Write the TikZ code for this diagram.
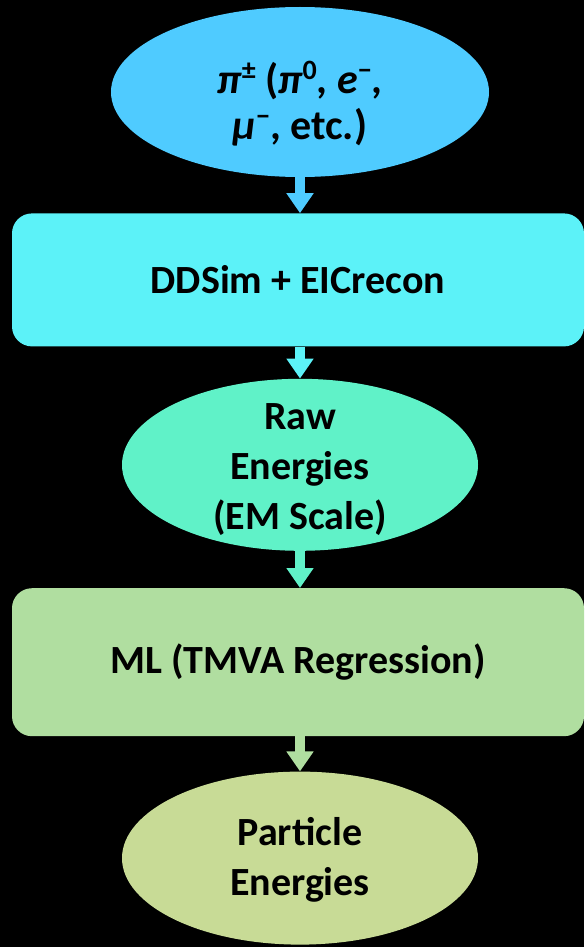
\documentclass[tikz,border=0pt]{standalone}
\usepackage{fontspec}
\setmainfont{Carlito}
\usetikzlibrary{arrows.meta, shapes.geometric, positioning}
\definecolor{particleblue}{RGB}{79,203,255}
\definecolor{simcyan}{RGB}{92,242,248}
\definecolor{rawmint}{RGB}{96,242,200}
\definecolor{mlgreen}{RGB}{176,222,160}
\definecolor{outolive}{RGB}{200,219,150}
\newcommand{\upidx}[1]{\raisebox{0.33em}{\fontsize{28}{28}\selectfont #1}}

\begin{document}
\begin{tikzpicture}[x=1pt, y=1pt, font=\fontsize{40}{50}\selectfont\bfseries,
  oval/.style={ellipse, inner sep=0pt, minimum width=356pt, minimum height=172pt},
  stage/.style={rectangle, rounded corners=20pt, inner sep=0pt, minimum width=572pt},
  lbl/.style={align=center, text=black},
  flow/.style={line width=10pt, -{Triangle[width=26pt, length=20pt]}}]
  \fill[black] (0,0) rectangle (584,-947);

  % inputs and chain
  \node[oval, fill=particleblue, minimum width=378pt, minimum height=170pt,
        label={[lbl, font=\fontsize{42}{46}\selectfont\bfseries, yshift=-12pt]center:{{\itshape π}\upidx{±} ({\itshape π}\upidx{0}, {\itshape e}\upidx{−},\\{\itshape μ}\upidx{−}, etc.)}}] (particles) at (300,-92) {};
  \node[stage, fill=simcyan, minimum height=133pt, below=36pt of particles, xshift=-2pt] (sim) {DDSim + EICrecon};
  \node[oval, fill=rawmint, below=32pt of sim, xshift=2pt,
        label={[lbl, yshift=-5pt]center:{Raw\\Energies\\(EM Scale)}}] (raw) {};
  \node[stage, fill=mlgreen, minimum height=148pt, below=37pt of raw, xshift=-2pt] (ml) {ML (TMVA Regression)};
  \node[oval, fill=outolive, minimum height=173pt, below=35pt of ml, xshift=2pt,
        label={[lbl, yshift=-2pt]center:{Particle\\Energies}}] (energies) {};

  \draw[flow, particleblue] (particles.south) -- (particles.south |- sim.north);
  \draw[flow, simcyan] (raw.north |- sim.south) -- (raw.north);
  \draw[flow, rawmint] (raw.south) -- (raw.south |- ml.north);
  \draw[flow, mlgreen] (energies.north |- ml.south) -- (energies.north);
\end{tikzpicture}
\end{document}
